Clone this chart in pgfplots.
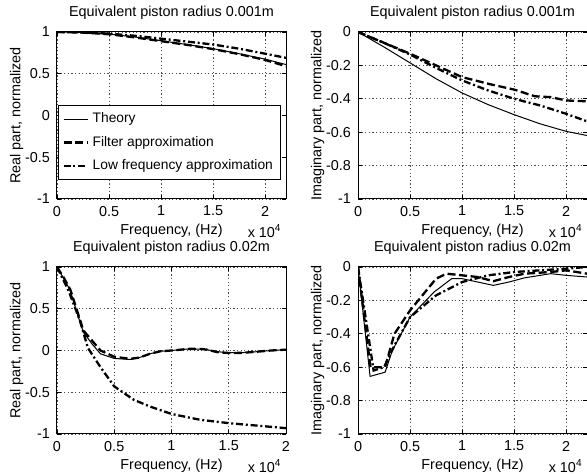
\documentclass[border=0pt]{standalone}
\usepackage{fontspec}
\setmainfont{Liberation Sans}
\usepackage{pgfplots}
\pgfplotsset{compat=1.18}
\newcommand{\fs}{\fontsize{7.2}{8.5}\selectfont}
\pgfplotsset{
  theory/.style={black, line width=0.5pt},
  filter/.style={black, line width=1.15pt, dash pattern=on 4pt off 1.8pt},
  lowf/.style={black, line width=1.15pt, dash pattern=on 3.5pt off 1.4pt on 1pt off 1.4pt},
  common/.style={
    scale only axis, width=114.5pt, height=83.5pt,
    xmin=0, xmax=2.2,
    xtick={0,0.5,1,1.5,2}, xticklabels={0,0.5,1,1.5,2},
    grid=major,
    major grid style={black!70, line width=0.35pt, dash pattern=on 0.6pt off 1.2pt},
    tick align=inside, major tick length=2pt,
    tick style={black, line width=0.4pt},
    axis line style={line width=0.5pt},
    tick label style={font=\fs},
    label style={font=\fs},
    title style={font=\fs, yshift=-3.5pt},
    xlabel={Frequency, (Hz)},
    xlabel style={yshift=3pt},
    ylabel style={yshift=-6pt},
    clip mode=individual,
    after end axis/.append code={\node[font=\fs, anchor=north east, inner sep=0pt] at (rel axis cs:1,0) [xshift=-2pt, yshift=-12.5pt] {x 10\textsuperscript{4}};},
  },
  realax/.style={ymin=-1, ymax=1, ytick={-1,-0.5,0,0.5,1}, yticklabels={-1,-0.5,0,0.5,1}, ylabel={Real part, normalized}},
  imagax/.style={ymin=-1, ymax=0, ytick={-1,-0.8,-0.6,-0.4,-0.2,0}, yticklabels={-1,-0.8,-0.6,-0.4,-0.2,0}, ylabel={Imaginary part, normalized}},
}
\begin{document}
\begin{tikzpicture}
% Top left
\begin{axis}[common, realax, at={(0pt,0pt)}, anchor=south west,
  title={Equivalent piston radius 0.001m},
  legend style={at={(rel axis cs:0.004,0.114)}, anchor=south west, draw=black, line width=0.45pt,
    font=\fontsize{6.9}{8}\selectfont, inner xsep=2pt, inner ysep=1.5pt, row sep=1.2pt, fill=white},
  legend cell align=left,
  legend image code/.code={\draw[#1] (0pt,0pt) -- (12pt,0pt);},
  ]
\addplot[theory] coordinates {(0,1)(0.25,0.994)(0.5,0.975)(0.75,0.94)(1,0.895)(1.25,0.85)(1.5,0.8)(1.75,0.74)(2,0.675)(2.2,0.61)};
\addplot[filter] coordinates {(0,1)(0.25,0.993)(0.5,0.973)(0.75,0.935)(1,0.89)(1.25,0.846)(1.5,0.795)(1.75,0.735)(2,0.665)(2.2,0.59)};
\addplot[lowf] coordinates {(0,1)(0.25,0.995)(0.5,0.98)(0.75,0.955)(1,0.92)(1.25,0.885)(1.5,0.85)(1.75,0.8)(2,0.74)(2.2,0.69)};
\legend{Theory, Filter approximation, Low frequency approximation}
\end{axis}
% Top right
\begin{axis}[common, imagax, at={(150.5pt,0pt)}, anchor=south west,
  title={Equivalent piston radius 0.001m}]
\addplot[theory] coordinates {(0,0)(0.25,-0.09)(0.5,-0.185)(0.75,-0.28)(1,-0.365)(1.25,-0.435)(1.5,-0.495)(1.75,-0.55)(2,-0.595)(2.2,-0.62)};
\addplot[filter] coordinates {(0,0)(0.25,-0.065)(0.5,-0.13)(0.75,-0.2)(1,-0.27)(1.25,-0.31)(1.5,-0.345)(1.7,-0.385)(1.85,-0.39)(2,-0.41)(2.2,-0.415)};
\addplot[lowf] coordinates {(0,0)(0.25,-0.065)(0.5,-0.135)(0.75,-0.215)(1,-0.29)(1.25,-0.35)(1.5,-0.4)(1.75,-0.44)(2,-0.49)(2.2,-0.535)};
\end{axis}
% Bottom left
\begin{axis}[common, realax, xmax=2, at={(0pt,-117.5pt)}, anchor=south west,
  title={Equivalent piston radius 0.02m}]
\addplot[theory] coordinates {(0,1)(0.06,0.86)(0.116,0.72)(0.17,0.47)(0.23,0.22)(0.305,0.08)(0.38,-0.04)(0.5,-0.095)(0.64,-0.108)(0.72,-0.085)(0.81,-0.04)(0.9,-0.01)(1,0.0)(1.16,0.02)(1.26,0.015)(1.31,0.01)(1.4,-0.015)(1.5,-0.025)(1.62,-0.025)(1.74,-0.015)(1.87,0.0)(2,0.01)};
\addplot[filter] coordinates {(0,1)(0.06,0.87)(0.116,0.73)(0.17,0.5)(0.23,0.24)(0.305,0.12)(0.38,0.0)(0.5,-0.075)(0.64,-0.1)(0.72,-0.085)(0.81,-0.04)(0.9,-0.01)(1,0.0)(1.16,0.02)(1.26,0.018)(1.31,0.01)(1.4,-0.02)(1.5,-0.03)(1.62,-0.028)(1.74,-0.015)(1.87,0.0)(2,0.01)};
\addplot[lowf] coordinates {(0,1)(0.1,0.72)(0.2,0.36)(0.27,0.03)(0.38,-0.2)(0.5,-0.43)(0.67,-0.59)(0.81,-0.67)(1,-0.76)(1.25,-0.83)(1.5,-0.87)(1.75,-0.9)(2,-0.93)};
\end{axis}
% Bottom right
\begin{axis}[common, imagax, at={(150.5pt,-117.5pt)}, anchor=south west,
  title={Equivalent piston radius 0.02m}]
\addplot[theory] coordinates {(0,0)(0.116,-0.655)(0.26,-0.63)(0.33,-0.5)(0.5,-0.3)(0.73,-0.15)(0.9,-0.07)(1.0,-0.07)(1.15,-0.09)(1.3,-0.11)(1.45,-0.09)(1.6,-0.065)(1.85,-0.04)(2.0,-0.05)(2.2,-0.06)};
\addplot[filter] coordinates {(0,0)(0.12,-0.6)(0.26,-0.6)(0.35,-0.4)(0.5,-0.26)(0.75,-0.07)(0.85,-0.04)(1,-0.05)(1.15,-0.06)(1.3,-0.085)(1.45,-0.06)(1.6,-0.04)(1.85,-0.03)(2,-0.02)(2.2,-0.04)};
\addplot[lowf] coordinates {(0,0)(0.15,-0.62)(0.25,-0.6)(0.35,-0.47)(0.5,-0.3)(0.75,-0.17)(1,-0.09)(1.25,-0.05)(1.5,-0.03)(1.75,-0.02)(2,-0.01)(2.2,0.0)};
\end{axis}
\pgfresetboundingbox
\useasboundingbox (-28.5pt,-137.5pt) rectangle (265pt,99.5pt);
\end{tikzpicture}
\end{document}
